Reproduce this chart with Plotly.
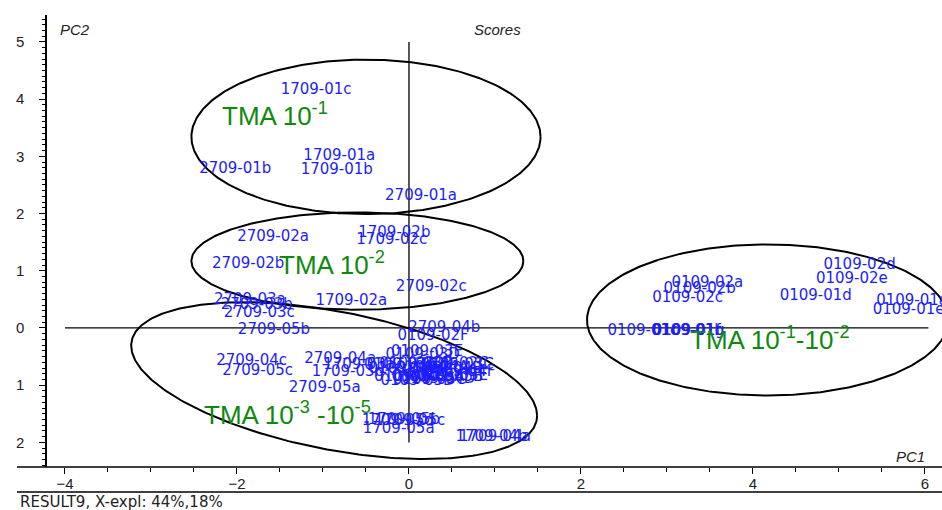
import numpy as np
import plotly.graph_objects as go

# Sample scores on the first two principal components
names = [
    "1709-01c", "1709-01a", "1709-01b", "2709-01b", "2709-01a",
    "2709-02a", "1709-02b", "1709-02c", "2709-02b", "2709-02c", "1709-02a",
    "2709-03a", "2709-03b", "2709-03c", "2709-05b", "2709-04b", "0109-02F",
    "2709-04c", "2709-05c", "1709-03a", "1709-03b", "2709-04a", "2709-05a",
    "0109-03D", "0109-03E", "0109-03A", "0109-03B", "0109-03C", "0109-04A",
    "0109-04B", "0109-02C", "0109-04C", "0109-05A", "0109-05B", "0109-04D",
    "0109-05C", "0109-04E", "0109-04F", "0109-05D", "0109-05E",
    "1709-05d", "1709-05b", "1709-05c", "1709-05a", "1709-04b", "1709-04a",
    "0109-02a", "0109-02b", "0109-02c", "0109-02d", "0109-02e", "0109-01d",
    "0109-01a", "0109-01e", "0109-01c", "0109-01f", "0109-01g", "0109-01b",
]
pc1 = [
    -1.08, -0.81, -0.84, -2.02, 0.14,
    -1.58, -0.17, -0.20, -1.87, 0.26, -0.67,
    -1.85, -1.77, -1.74, -1.57, 0.41, 0.28,
    -1.83, -1.76, -0.58, -0.71, -0.80, -0.98,
    0.16, 0.21, -0.10, 0.08, 0.56, 0.27,
    0.43, 0.50, 0.02, 0.22, 0.44, 0.34,
    0.24, -0.05, 0.59, 0.10, 0.50,
    -0.13, -0.06, 0.01, -0.12, 0.96, 1.00,
    3.47, 3.38, 3.24, 5.24, 5.15, 4.73,
    5.85, 5.81, 2.72, 3.23, 3.25, 3.24,
]
pc2 = [
    4.16, 3.01, 2.75, 2.78, 2.30,
    1.59, 1.66, 1.54, 1.11, 0.72, 0.46,
    0.49, 0.40, 0.26, -0.04, 0.00, -0.15,
    -0.58, -0.76, -0.66, -0.77, -0.54, -1.05,
    -0.47, -0.42, -0.66, -0.63, -0.66, -0.70,
    -0.72, -0.63, -0.87, -0.86, -0.87, -0.89,
    -0.91, -0.73, -0.77, -0.93, -0.84,
    -1.63, -1.61, -1.63, -1.77, -1.91, -1.91,
    0.79, 0.68, 0.52, 1.10, 0.86, 0.56,
    0.46, 0.31, -0.06, -0.06, -0.055, -0.06,
]

# Group captions
group_text = [
    "TMA 10<sup>-1</sup>",
    "TMA 10<sup>-2</sup>",
    "TMA 10<sup>-3</sup> -10<sup>-5</sup>",
    "TMA 10<sup>-1</sup>-10<sup>-2</sup>",
]
group_x = [-1.56, -0.89, -1.41, 4.20]
group_y = [3.73, 1.12, -1.50, -0.19]

# Group ellipses: centre, half extent along PC1 / PC2, correlation
ell_cx = [-0.50, -0.60, -0.87, 4.17]
ell_cy = [3.34, 1.17, -0.92, 0.14]
ell_sx = [2.03, 1.93, 2.36, 2.10]
ell_sy = [1.35, 0.85, 1.37, 1.32]
ell_rho = [0.0, 0.0, -0.446, 0.0]

# Axis ticks
x_ticks = [-4, -2, 0, 2, 4, 6]
y_ticks = [-2, -1, 0, 1, 2, 3, 4, 5]
y_tick_text = ["2", "1", "0", "1", "2", "3", "4", "5"]

BLUE = "#1c1cff"
GREEN = "#0e8a0e"
LABEL_FONT = "DejaVu Sans"
AXIS_FONT = "Liberation Sans, Arial, sans-serif"

fig = go.Figure()

t = np.linspace(0, 2 * np.pi, 361)
for cx, cy, sx, sy, rho in zip(ell_cx, ell_cy, ell_sx, ell_sy, ell_rho):
    ex = cx + sx * np.cos(t)
    ey = cy + sy * (rho * np.cos(t) + np.sqrt(1 - rho ** 2) * np.sin(t))
    fig.add_trace(go.Scatter(
        x=ex, y=ey, mode="lines",
        line=dict(color="black", width=2),
        hoverinfo="skip", showlegend=False,
    ))

fig.add_trace(go.Scatter(
    x=pc1, y=pc2, text=names, mode="text",
    textposition="middle center",
    textfont=dict(family=LABEL_FONT, size=15, color=BLUE),
    cliponaxis=False, showlegend=False,
))

for txt, gx, gy in zip(group_text, group_x, group_y):
    fig.add_annotation(
        x=gx, y=gy, text=txt, showarrow=False,
        xanchor="center", yanchor="middle",
        font=dict(family=AXIS_FONT, size=26, color=GREEN),
    )

# Cross lines through the origin
fig.add_shape(type="line", x0=-4, x1=6.04, y0=0, y1=0,
              line=dict(color="black", width=1.3), layer="below")
fig.add_shape(type="line", x0=0, x1=0, y0=-2.0, y1=5.0,
              line=dict(color="black", width=1.3), layer="below")

# Bottom axis line (extends to the left of the PC2 axis) and footer rule
fig.add_shape(type="line", xref="paper", yref="paper",
              x0=-0.0335, x1=1.0, y0=0, y1=0,
              line=dict(color="black", width=1.5))
fig.add_shape(type="line", xref="paper", yref="paper",
              x0=-0.0335, x1=1.0, y0=-0.0555, y1=-0.0555,
              line=dict(color="black", width=1.5))

italic = dict(family=AXIS_FONT, size=15, color="#222222", style="italic")
fig.add_annotation(xref="paper", yref="paper", x=0.0123, y=0.967,
                   text="PC2", showarrow=False, xanchor="left",
                   yanchor="middle", font=italic)
fig.add_annotation(xref="paper", yref="paper", x=0.503, y=0.967,
                   text="Scores", showarrow=False, xanchor="center",
                   yanchor="middle", font=italic)
fig.add_annotation(xref="paper", yref="paper", x=0.983, y=0.024,
                   text="PC1", showarrow=False, xanchor="right",
                   yanchor="middle", font=italic)
fig.add_annotation(xref="paper", yref="paper", x=-0.0324, y=-0.0765,
                   text="RESULT9, X-expl: 44%,18%", showarrow=False,
                   xanchor="left", yanchor="middle",
                   font=dict(family=LABEL_FONT, size=15, color="#222222"))

fig.update_xaxes(
    range=[-4.209, 6.198], showgrid=False, zeroline=False, showline=False,
    tickmode="array", tickvals=x_ticks,
    ticks="outside", ticklen=6, tickwidth=1, tickcolor="black",
    ticklabelstandoff=-3,
    minor=dict(tickmode="linear", tick0=0, dtick=0.5, ticks="outside",
               ticklen=4, tickwidth=1, tickcolor="black"),
    tickfont=dict(family=AXIS_FONT, size=15, color="#222222"),
)
fig.update_yaxes(
    range=[-2.43, 5.47], showgrid=False, zeroline=False,
    showline=True, linecolor="black", linewidth=1.5,
    tickmode="array", tickvals=y_ticks, ticktext=y_tick_text,
    ticks="outside", ticklen=6, tickwidth=1, tickcolor="black",
    ticklabelstandoff=12,
    minor=dict(tickmode="linear", tick0=0, dtick=0.1, ticks="outside",
               ticklen=3, tickwidth=1, tickcolor="black"),
    tickfont=dict(family=AXIS_FONT, size=15, color="#222222"),
)

fig.update_layout(
    width=942, height=510,
    margin=dict(l=47, r=0, t=15, b=43, pad=0),
    paper_bgcolor="white", plot_bgcolor="white",
    showlegend=False,
)

fig.write_html("out.html")
